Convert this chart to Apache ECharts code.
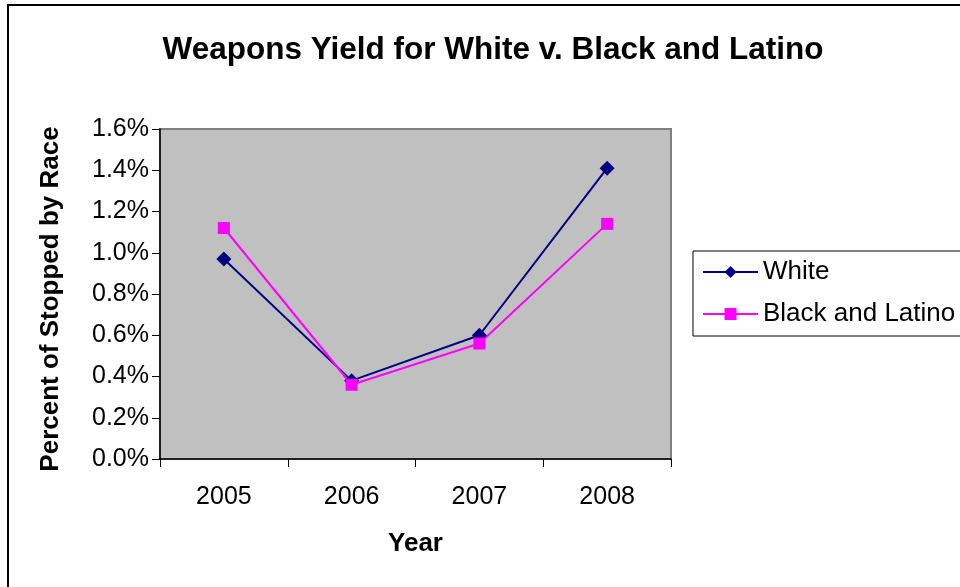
<!DOCTYPE html>
<html>
<head>
<meta charset="utf-8">
<script src="https://cdn.jsdelivr.net/npm/echarts@6/dist/echarts.min.js"></script>
<style>
  html, body { margin: 0; padding: 0; background: #fff; }
  #chart { width: 960px; height: 587px; }
</style>
</head>
<body>
<div id="chart"></div>
<script>
// Weapons yield (% of stops) by year
const years = ['2005', '2006', '2007', '2008'];
const whiteYield = [0.97, 0.38, 0.60, 1.41];
const blackLatinoYield = [1.12, 0.36, 0.56, 1.14];
const seriesNames = ['White', 'Black and Latino'];

const FONT = '"Liberation Sans", Arial, sans-serif';

const chart = echarts.init(document.getElementById('chart'), null, { renderer: 'canvas' });

chart.setOption({
  backgroundColor: '#ffffff',
  animation: false,
  title: {
    text: 'Weapons Yield for White v. Black and Latino',
    left: 488,
    top: 29,
    textAlign: 'center',
    textStyle: { fontFamily: FONT, fontSize: 31.5, fontWeight: 'bold', color: '#000' }
  },
  graphic: [{
    type: 'rect',
    shape: { x: 8, y: 5, width: 1000, height: 700 },
    style: { fill: 'none', stroke: '#000', lineWidth: 2 },
    silent: true,
    z: 100
  }],
  legend: {
    orient: 'vertical',
    left: 693,
    top: 251,
    padding: [8, 20, 9, 9],
    itemWidth: 55,
    itemHeight: 15,
    itemGap: 16,
    borderColor: '#000',
    borderWidth: 1,
    textStyle: { fontFamily: FONT, fontSize: 26, color: '#000', lineHeight: 26 },
    data: seriesNames
  },
  grid: {
    left: 160,
    right: 289,
    top: 129,
    bottom: 128,
    show: true,
    backgroundColor: '#c0c0c0',
    borderColor: '#808080',
    borderWidth: 2
  },
  xAxis: {
    type: 'category',
    data: years,
    boundaryGap: true,
    name: 'Year',
    nameLocation: 'middle',
    nameGap: 72,
    nameTextStyle: { fontFamily: FONT, fontSize: 26, fontWeight: 'bold', color: '#000' },
    axisLine: { lineStyle: { color: '#000', width: 1.5 } },
    axisTick: { show: true, length: 8, alignWithLabel: false, lineStyle: { color: '#000' } },
    axisLabel: { fontFamily: FONT, fontSize: 25, color: '#000', margin: 26 },
    splitLine: { show: false }
  },
  yAxis: {
    type: 'value',
    min: 0,
    max: 1.6,
    interval: 0.2,
    name: 'Percent of Stopped by Race',
    nameLocation: 'middle',
    nameRotate: 90,
    nameGap: 96,
    nameTextStyle: { fontFamily: FONT, fontSize: 26, fontWeight: 'bold', color: '#000', padding: [0, 10, 0, 0] },
    axisLine: { show: true, lineStyle: { color: '#000', width: 1.5 } },
    axisTick: { show: true, length: 8, lineStyle: { color: '#000' } },
    axisLabel: {
      fontFamily: FONT, fontSize: 25, color: '#000', margin: 11,
      formatter: v => v.toFixed(1) + '%'
    },
    splitLine: { show: false }
  },
  series: [
    {
      name: seriesNames[0],
      type: 'line',
      data: whiteYield,
      color: '#000080',
      symbol: 'diamond',
      symbolSize: 15,
      lineStyle: { width: 2, color: '#000080' },
      itemStyle: { color: '#000080' }
    },
    {
      name: seriesNames[1],
      type: 'line',
      data: blackLatinoYield,
      color: '#ff00ff',
      symbol: 'rect',
      symbolSize: 12,
      lineStyle: { width: 2, color: '#ff00ff' },
      itemStyle: { color: '#ff00ff' }
    }
  ]
});
</script>
</body>
</html>
